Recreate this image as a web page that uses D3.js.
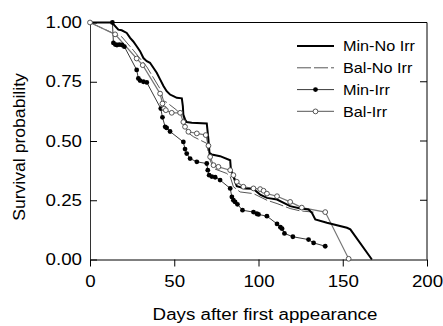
<!DOCTYPE html>
<html>
<head>
<meta charset="utf-8">
<script src="https://cdn.jsdelivr.net/npm/d3@7"></script>
<style>
  body { margin: 0; background: #fff; }
  text { font-family: "Liberation Sans", Arial, sans-serif; }
</style>
</head>
<body>
<div id="viz_container"></div>
<script>
// x ticks and y ticks
const xTicks = [0, 50, 100, 150, 200];
const yTicks = [0, 0.25, 0.5, 0.75, 1];

// series: [day, survival]
const minNoIrr = [[0,1],[13,1],[16.8,0.97],[18.8,0.967],[21.8,0.956],[23.8,0.935],[25.7,0.92],[27.7,0.9],[29.7,0.879],[31.7,0.85],[33.7,0.837],[35.6,0.83],[37.6,0.809],[39.6,0.788],[41.6,0.76],[43.6,0.732],[45.5,0.71],[47.5,0.696],[49.5,0.689],[51.5,0.682],[54.5,0.68],[55.1,0.647],[55.4,0.612],[56.4,0.591],[57.4,0.58],[60.4,0.577],[69.3,0.574],[70.3,0.506],[70.9,0.45],[72.3,0.443],[77.2,0.436],[83.2,0.419],[83.6,0.38],[85.1,0.351],[86.1,0.33],[87.1,0.309],[92.1,0.3],[97,0.298],[101,0.274],[105,0.26],[111,0.253],[118.8,0.225],[124.8,0.215],[129.7,0.211],[131.7,0.197],[133.7,0.169],[140.6,0.155],[152.5,0.134],[154.5,0.127],[167.3,0]];
const balNoIrr = [[0,1],[13.9,0.954],[18.8,0.94],[25.7,0.883],[33.7,0.813],[41.6,0.72],[43.6,0.67],[45.5,0.663],[51.5,0.63],[55.4,0.602],[57.4,0.539],[61.4,0.518],[69.3,0.49],[70.3,0.447],[71.3,0.42],[73.3,0.384],[81.2,0.363],[83.2,0.35],[85.1,0.307],[89.1,0.285],[97,0.278],[105,0.25],[111,0.236],[118.8,0.215],[124.8,0.205],[132.7,0.2]];
const minIrr = [[0,1],[13.3,1],[13.9,0.914],[15,0.907],[16,0.905],[17.4,0.907],[19,0.905],[20.4,0.898],[27.7,0.8],[28.7,0.764],[29.7,0.755],[31.7,0.75],[33.7,0.747],[42,0.637],[43,0.6],[44.6,0.56],[45.5,0.555],[47.5,0.54],[55.4,0.496],[56.4,0.466],[57.4,0.447],[59.4,0.426],[63.4,0.412],[69.3,0.405],[69.9,0.377],[70.7,0.356],[72.3,0.35],[74.3,0.347],[77.2,0.335],[83.2,0.3],[84.2,0.264],[85.1,0.25],[86.1,0.243],[87.5,0.233],[90.5,0.208],[97,0.2],[99,0.193],[100,0.19],[105,0.183],[111,0.15],[113,0.136],[114,0.13],[115.4,0.11],[120.4,0.096],[129.7,0.084],[132.7,0.07],[139.6,0.056]];
const balIrr = [[0,1],[14.9,0.95],[27.7,0.848],[31.3,0.82],[41.6,0.7],[43,0.658],[44,0.637],[45,0.63],[48.5,0.619],[53.5,0.619],[55.4,0.58],[56.4,0.56],[58.4,0.539],[63.4,0.532],[68.7,0.525],[70.3,0.48],[71.3,0.433],[73.3,0.398],[76.2,0.391],[83.2,0.377],[85.1,0.356],[87.1,0.328],[91,0.307],[97,0.3],[101,0.297],[103,0.29],[105,0.278],[111,0.267],[118.8,0.243],[125.7,0.219],[139.6,0.2],[153.5,0.003]];

const legendNames = ["Min-No Irr", "Bal-No Irr", "Min-Irr", "Bal-Irr"];

const width = 443, height = 326;
const svg = d3.select("#viz_container").append("svg")
  .attr("width", width).attr("height", height);

// the original type is a wide helvetica, so widen the glyphs a bit
const stretch = (sel, k) => sel.each(function() {
  const w = this.getComputedTextLength();
  d3.select(this).attr("textLength", w * k).attr("lengthAdjust", "spacingAndGlyphs");
});

const x = d3.scaleLinear().domain([0, 200]).range([90, 427]);
const y = d3.scaleLinear().domain([0, 1]).range([259.5, 22.5]);

// frame top / right
svg.append("line").attr("x1", 90).attr("x2", 427).attr("y1", 22.5).attr("y2", 22.5)
  .attr("stroke", "#000").attr("stroke-width", 1);
svg.append("line").attr("x1", 427).attr("x2", 427).attr("y1", 22.5).attr("y2", 259.5)
  .attr("stroke", "#000").attr("stroke-width", 1);

// right inner ticks
svg.append("g").selectAll("line").data(yTicks.slice(1, 4)).join("line")
  .attr("x1", 420).attr("x2", 427)
  .attr("y1", d => y(d)).attr("y2", d => y(d))
  .attr("stroke", "#000");

const xAxis = svg.append("g").attr("transform", "translate(0,259.5)")
  .call(d3.axisBottom(x).tickValues(xTicks).tickSize(7).tickSizeOuter(0).tickPadding(9));
xAxis.selectAll("text").style("font-size", "16px").attr("fill", "#000").call(stretch, 1.17);

const yAxis = svg.append("g").attr("transform", "translate(90,0)")
  .call(d3.axisLeft(y).tickValues(yTicks).tickSize(-7).tickSizeOuter(0).tickPadding(8).tickFormat(d3.format(".2f")));
yAxis.selectAll("text").style("font-size", "16px").attr("fill", "#000").call(stretch, 1.17);
yAxis.select(".domain").attr("stroke", "#333");

svg.append("text").attr("x", 265).attr("y", 320).attr("text-anchor", "middle")
  .style("font-size", "16px").text("Days after first appearance").call(stretch, 1.17);
svg.append("text").attr("transform", "translate(25,147) rotate(-90)").attr("text-anchor", "middle")
  .style("font-size", "16px").text("Survival probability").call(stretch, 1.1);

const line = d3.line().x(d => x(d[0])).y(d => y(d[1]));

const g = svg.append("g");
g.append("path").datum(balNoIrr).attr("d", line).attr("fill", "none")
  .attr("stroke", "#444").attr("stroke-width", 0.9).attr("stroke-dasharray", "14,3");
g.append("path").datum(minIrr).attr("d", line).attr("fill", "none")
  .attr("stroke", "#222").attr("stroke-width", 0.9);
g.append("path").datum(balIrr).attr("d", line).attr("fill", "none")
  .attr("stroke", "#777").attr("stroke-width", 1.2);
g.append("path").datum(minNoIrr).attr("d", line).attr("fill", "none")
  .attr("stroke", "#000").attr("stroke-width", 2);

g.append("g").selectAll("circle").data(minIrr.slice(1)).join("circle")
  .attr("cx", d => x(d[0])).attr("cy", d => y(d[1])).attr("r", 2.4)
  .attr("fill", "#000");
g.append("g").selectAll("circle").data(balIrr).join("circle")
  .attr("cx", d => x(d[0])).attr("cy", d => y(d[1])).attr("r", 2.4)
  .attr("fill", "#fff").attr("stroke", "#444").attr("stroke-width", 0.9);

// legend
const leg = svg.append("g");
const legY = i => 46 + i * 21.8;
leg.append("line").attr("x1", 297).attr("x2", 334).attr("y1", legY(0)).attr("y2", legY(0))
  .attr("stroke", "#000").attr("stroke-width", 2);
leg.append("line").attr("x1", 297).attr("x2", 334).attr("y1", legY(1)).attr("y2", legY(1))
  .attr("stroke", "#444").attr("stroke-width", 0.9).attr("stroke-dasharray", "14,3");
leg.append("line").attr("x1", 297).attr("x2", 334).attr("y1", legY(2)).attr("y2", legY(2))
  .attr("stroke", "#222").attr("stroke-width", 0.9);
leg.append("circle").attr("cx", 315.5).attr("cy", legY(2)).attr("r", 2.4).attr("fill", "#000");
leg.append("line").attr("x1", 297).attr("x2", 334).attr("y1", legY(3)).attr("y2", legY(3))
  .attr("stroke", "#777").attr("stroke-width", 1.2);
leg.append("circle").attr("cx", 315.5).attr("cy", legY(3)).attr("r", 2.4)
  .attr("fill", "#fff").attr("stroke", "#444").attr("stroke-width", 0.9);
leg.selectAll("text").data(legendNames).join("text")
  .attr("x", 343).attr("y", (d, i) => legY(i)).attr("dy", "0.36em")
  .style("font-size", "15px").text(d => d).call(stretch, 1.08);
</script>
</body>
</html>
